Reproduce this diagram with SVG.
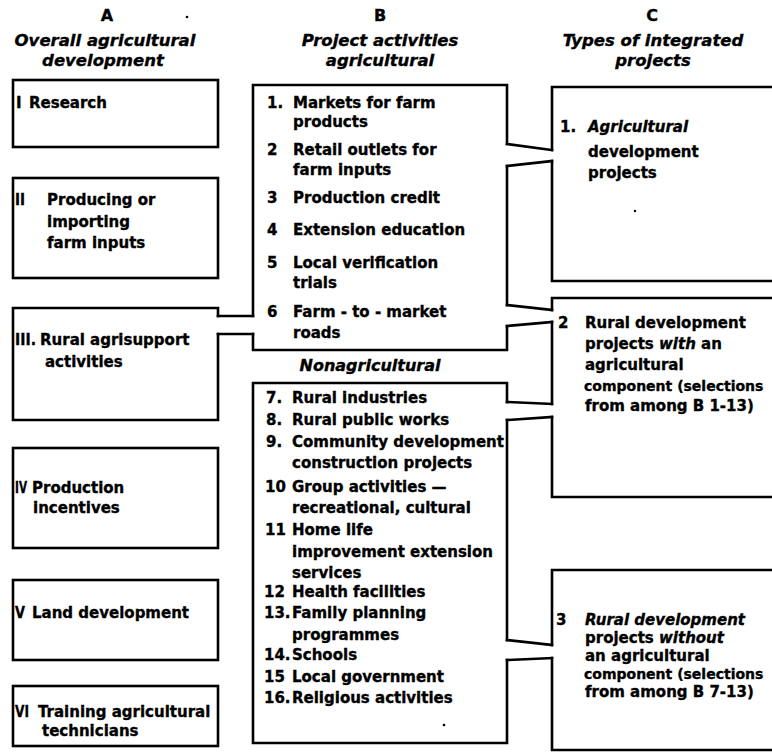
<svg xmlns="http://www.w3.org/2000/svg" width="772" height="756" viewBox="0 0 772 756">
<style>
  .bx { fill: none; stroke: #000; stroke-width: 2.6; stroke-linejoin: miter; stroke-linecap: square; }
  .cn { fill: none; stroke: #000; stroke-width: 2.6; stroke-linecap: square; }
  text { font-family: "DejaVu Sans", "Liberation Sans", sans-serif; font-weight: bold; font-size: 15px; fill: #000; stroke: #000; stroke-width: 0.35; }
  .hd { font-size: 16px; text-anchor: middle; }
  .hi { font-size: 16.5px; font-style: italic; text-anchor: middle; }
  .it { font-style: italic; }
  .sm { font-size: 14px; }
  .speck { fill: #000; }
</style>
<rect x="0" y="0" width="772" height="756" fill="#fff"/>

<g id="headers">
  <text class="hd" x="107" y="21">A</text>
  <text class="hi" x="105" y="46">Overall agricultural</text>
  <text class="hi" x="103" y="66">development</text>
  <text class="hd" x="380" y="21">B</text>
  <text class="hi" x="380" y="46">Project activities</text>
  <text class="hi" x="380" y="66">agricultural</text>
  <text class="hd" x="652" y="21">C</text>
  <text class="hi" x="653" y="46">Types of integrated</text>
  <text class="hi" x="653" y="66">projects</text>
</g>

<g id="A1">
  <rect class="bx" x="13" y="80" width="205" height="67"/>
  <text x="16" y="108">I</text><text x="29" y="108">Research</text>
</g>
<g id="A2">
  <rect class="bx" x="13" y="178" width="205" height="100"/>
  <text x="15" y="205" textLength="10" lengthAdjust="spacingAndGlyphs">II</text>
  <text x="47" y="205">Producing or</text>
  <text x="47" y="227">importing</text>
  <text x="47" y="248">farm inputs</text>
</g>
<g id="A3">
  <path class="bx" d="M218,334 V420 H13 V308 H218 V316"/>
  <text x="15" y="345" textLength="21" lengthAdjust="spacingAndGlyphs">III.</text>
  <text x="40" y="345">Rural agrisupport</text>
  <text x="45" y="367">activities</text>
</g>
<g id="A4">
  <rect class="bx" x="13" y="448" width="205" height="100"/>
  <text x="15" y="493" textLength="12" lengthAdjust="spacingAndGlyphs">IV</text>
  <text x="32" y="493">Production</text>
  <text x="33" y="513">incentives</text>
</g>
<g id="A5">
  <rect class="bx" x="13" y="580" width="205" height="80"/>
  <text x="15" y="618" textLength="10" lengthAdjust="spacingAndGlyphs">V</text>
  <text x="32" y="618">Land development</text>
</g>
<g id="A6">
  <rect class="bx" x="13" y="686" width="205" height="60"/>
  <text x="15" y="717" textLength="14" lengthAdjust="spacingAndGlyphs">VI</text>
  <text x="38" y="717">Training agricultural</text>
  <text x="42" y="736">technicians</text>
</g>

<g id="B_agricultural">
  <path class="bx" d="M253,316 V85 H507 V144"/>
  <path class="bx" d="M507,166 V305"/>
  <path class="bx" d="M507,326 V350 H253 V334"/>
  <text x="267" y="108">1.</text><text x="293" y="108">Markets for farm</text>
  <text x="293" y="127">products</text>
  <text x="267" y="155">2</text><text x="293" y="155">Retail outlets for</text>
  <text x="293" y="175">farm inputs</text>
  <text x="267" y="203">3</text><text x="293" y="203">Production credit</text>
  <text x="267" y="235">4</text><text x="293" y="235">Extension education</text>
  <text x="267" y="268">5</text><text x="293" y="268">Local verification</text>
  <text x="293" y="288">trials</text>
  <text x="267" y="317">6</text><text x="293" y="317">Farm - to - market</text>
  <text x="293" y="338">roads</text>
</g>

<g id="B_label">
  <text class="hi" x="370" y="371" style="font-size:16px">Nonagricultural</text>
</g>

<g id="B_nonagricultural">
  <path class="bx" d="M507,402 V383 H253 V743 H507 V660"/>
  <path class="bx" d="M507,640 V420"/>
  <text x="266" y="403">7.</text><text x="292" y="403">Rural industries</text>
  <text x="266" y="425">8.</text><text x="292" y="425">Rural public works</text>
  <text x="266" y="447">9.</text><text x="292" y="447">Community development</text>
  <text x="292" y="468">construction projects</text>
  <text x="265" y="492">10</text><text x="292" y="492">Group activities —</text>
  <text x="292" y="513">recreational, cultural</text>
  <text x="265" y="535">11</text><text x="292" y="535">Home life</text>
  <text x="292" y="557">improvement extension</text>
  <text x="292" y="578">services</text>
  <text x="264" y="597">12</text><text x="292" y="597">Health facilities</text>
  <text x="264" y="618">13.</text><text x="292" y="618">Family planning</text>
  <text x="292" y="640">programmes</text>
  <text x="264" y="660">14.</text><text x="292" y="660">Schools</text>
  <text x="264" y="682">15</text><text x="292" y="682">Local government</text>
  <text x="264" y="703">16.</text><text x="292" y="703">Religious activities</text>
</g>

<g id="C1">
  <path class="bx" d="M552,150 V87 H775"/>
  <path class="bx" d="M775,281 H552 V161"/>
  <text x="560" y="132">1.</text><text class="it" x="588" y="132">Agricultural</text>
  <text x="588" y="157">development</text>
  <text x="588" y="178">projects</text>
</g>
<g id="C2">
  <path class="bx" d="M552,310 V298 H775"/>
  <path class="bx" d="M775,497 H552 V417"/>
  <path class="bx" d="M552,404 V322"/>
  <text x="558" y="328">2</text><text x="585" y="328">Rural development</text>
  <text x="585" y="349">projects <tspan class="it">with</tspan> an</text>
  <text x="585" y="370">agricultural</text>
  <text class="sm" x="584" y="391">component (selections</text>
  <text x="585" y="411">from among B 1-13)</text>
</g>
<g id="C3">
  <path class="bx" d="M552,645 V570 H775"/>
  <path class="bx" d="M775,750 H552 V658"/>
  <text x="556" y="625">3</text><text class="it" x="585" y="625">Rural development</text>
  <text x="585" y="643">projects <tspan class="it">without</tspan></text>
  <text x="585" y="661">an agricultural</text>
  <text class="sm" x="584" y="679">component (selections</text>
  <text x="585" y="697">from among B 7-13)</text>
</g>

<g id="connectors">
  <path class="cn" d="M218,316 H253"/>
  <path class="cn" d="M218,334 H253"/>
  <path class="cn" d="M507,144 L552,150"/>
  <path class="cn" d="M507,166 L552,161"/>
  <path class="cn" d="M507,305 L552,310"/>
  <path class="cn" d="M507,326 L552,322"/>
  <path class="cn" d="M507,402 L552,404"/>
  <path class="cn" d="M507,420 L552,417"/>
  <path class="cn" d="M507,640 L552,645"/>
  <path class="cn" d="M507,660 L552,658"/>
</g>

<g id="specks">
  <circle class="speck" cx="187" cy="17" r="1.3"/>
  <circle class="speck" cx="635" cy="211" r="1.2"/>
  <circle class="speck" cx="444" cy="725" r="1.3"/>
</g>
</svg>
